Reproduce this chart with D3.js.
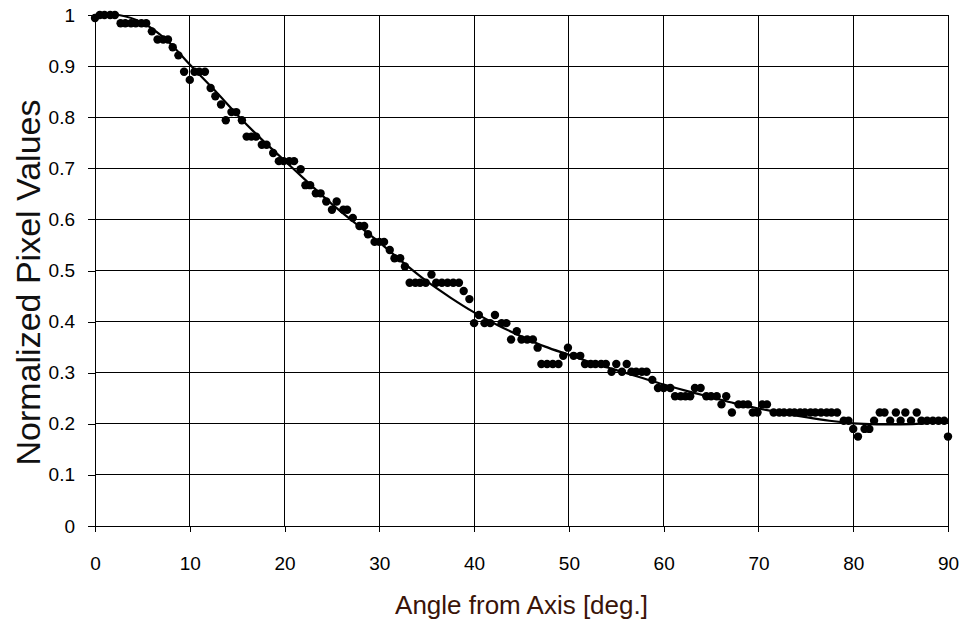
<!DOCTYPE html>
<html>
<head>
<meta charset="utf-8">
<script src="https://cdn.jsdelivr.net/npm/d3@7"></script>
<style>
  html, body { margin: 0; padding: 0; background: #fff; }
  svg { display: block; font-family: "Liberation Sans", Arial, sans-serif; }
</style>
</head>
<body>
<svg id="chart" width="962" height="631"></svg>
<script>
// measured points: angle [deg] and normalized pixel value
const angles = [
  0.0, 0.5, 1.0, 1.6, 2.1, 2.7, 3.2, 3.8, 4.3, 4.9, 5.4, 6.0, 6.6, 7.2, 7.7, 8.2, 8.8, 9.4, 10.0,
  10.5, 11.0, 11.6, 12.2, 12.7, 13.3, 13.8, 14.4, 14.9, 15.5, 16.0, 16.5, 17.0, 17.6, 18.1, 18.8,
  19.4, 19.9, 20.5, 21.0, 21.7, 22.2, 22.7, 23.3, 23.8, 24.4, 25.0, 25.5, 26.2, 26.6, 27.2, 27.9,
  28.4, 28.8, 29.5, 30.0, 30.5, 31.1, 31.6, 32.2, 32.7, 33.2, 33.8, 34.3, 34.9, 35.5, 36.0, 36.6,
  37.2, 37.8, 38.4, 38.9, 39.5, 40.0, 40.5, 41.1, 41.7, 42.2, 42.9, 43.4, 43.9, 44.5, 45.0, 45.6,
  46.2, 46.7, 47.1, 47.7, 48.3, 48.9, 49.4, 49.9, 50.5, 51.2, 51.7, 52.3, 52.8, 53.4, 53.9, 54.5,
  55.0, 55.6, 56.1, 56.6, 57.1, 57.7, 58.2, 58.8, 59.4, 60.0, 60.7, 61.2, 61.8, 62.3, 62.8, 63.3,
  63.9, 64.5, 65.0, 65.6, 66.1, 66.6, 67.2, 67.9, 68.4, 68.9, 69.4, 69.9, 70.4, 70.9, 71.6, 72.2,
  72.7, 73.3, 73.8, 74.4, 74.9, 75.5, 76.0, 76.6, 77.2, 77.7, 78.3, 79.0, 79.5, 80.0, 80.5, 81.2,
  81.7, 82.2, 82.8, 83.3, 83.9, 84.5, 85.0, 85.5, 86.1, 86.7, 87.2, 87.8, 88.4, 89.0, 89.6, 90.0
]
const pixelValues = [
  0.994, 1.000, 1.000, 1.000, 1.000, 0.984, 0.984, 0.984, 0.984, 0.984, 0.984, 0.968, 0.952, 0.952, 0.952, 0.937, 0.921, 0.889, 0.873,
  0.889, 0.889, 0.889, 0.857, 0.841, 0.825, 0.794, 0.810, 0.810, 0.794, 0.762, 0.762, 0.762, 0.746, 0.746, 0.730,
  0.714, 0.714, 0.714, 0.714, 0.698, 0.667, 0.667, 0.651, 0.651, 0.635, 0.619, 0.635, 0.619, 0.619, 0.603, 0.587,
  0.587, 0.571, 0.556, 0.556, 0.556, 0.540, 0.524, 0.524, 0.508, 0.476, 0.476, 0.476, 0.476, 0.492, 0.476, 0.476,
  0.476, 0.476, 0.476, 0.460, 0.444, 0.397, 0.413, 0.397, 0.397, 0.413, 0.397, 0.397, 0.365, 0.381, 0.365, 0.365,
  0.365, 0.349, 0.317, 0.317, 0.317, 0.317, 0.333, 0.349, 0.333, 0.333, 0.317, 0.317, 0.317, 0.317, 0.317, 0.302,
  0.317, 0.302, 0.317, 0.302, 0.302, 0.302, 0.302, 0.286, 0.270, 0.270, 0.270, 0.254, 0.254, 0.254, 0.254, 0.270,
  0.270, 0.254, 0.254, 0.254, 0.238, 0.254, 0.222, 0.238, 0.238, 0.238, 0.222, 0.222, 0.238, 0.238, 0.222, 0.222,
  0.222, 0.222, 0.222, 0.222, 0.222, 0.222, 0.222, 0.222, 0.222, 0.222, 0.222, 0.206, 0.206, 0.190, 0.175, 0.190,
  0.190, 0.206, 0.222, 0.222, 0.206, 0.222, 0.206, 0.222, 0.206, 0.222, 0.206, 0.206, 0.206, 0.206, 0.206, 0.175
]

// trend line
const trendAngles = [0, 2.5, 5, 7.5, 10, 12.5, 15, 17.5, 20, 22.5, 25, 27.5, 30, 32.5, 35, 37.5, 40, 42.5, 45,
  47.5, 50, 52.5, 55, 57.5, 60, 62.5, 65, 67.5, 70, 72.5, 75, 77.5, 80, 82.5, 85, 87.5, 90]
const trendValues = [1.0, 1.0, 0.985, 0.952, 0.903, 0.855, 0.805, 0.758, 0.715, 0.672, 0.630, 0.592, 0.555, 0.516, 0.479, 0.447, 0.418, 0.393, 0.371,
  0.351, 0.335, 0.319, 0.305, 0.291, 0.277, 0.264, 0.252, 0.240, 0.230, 0.221, 0.213, 0.206, 0.201, 0.199, 0.199, 0.201, 0.205]

const xTicks = [0, 10, 20, 30, 40, 50, 60, 70, 80, 90]
const yTicks = [0, 0.1, 0.2, 0.3, 0.4, 0.5, 0.6, 0.7, 0.8, 0.9, 1]

const margin = {left: 95, right: 14, top: 15, bottom: 105}
const width = 962, height = 631

const svg = d3.select("#chart")

const x = d3.scaleLinear().domain([0, 90]).range([margin.left, width - margin.right])
const y = d3.scaleLinear().domain([0, 1]).range([height - margin.bottom, margin.top])

// grid
const grid = svg.append("g").attr("class", "grid")
  .attr("stroke", "#000").attr("stroke-width", 1).attr("shape-rendering", "crispEdges")
grid.selectAll(".h").data(yTicks.slice(1)).enter().append("line")
  .attr("x1", x(0)).attr("x2", x(90))
  .attr("y1", d => y(d)).attr("y2", d => y(d))
grid.selectAll(".v").data(xTicks.slice(1)).enter().append("line")
  .attr("y1", y(0)).attr("y2", y(1))
  .attr("x1", d => x(d)).attr("x2", d => x(d))

// axes
svg.append("g")
  .attr("transform", `translate(${x(0)},0)`)
  .call(d3.axisLeft(y).tickValues(yTicks).tickSizeInner(7).tickSizeOuter(0).tickPadding(13)
    .tickFormat(d => d3.format("")(+d.toFixed(1))))
svg.append("g")
  .attr("transform", `translate(0,${y(0)})`)
  .call(d3.axisBottom(x).tickValues(xTicks).tickSizeInner(6).tickSizeOuter(0).tickPadding(25))

svg.selectAll(".tick text").attr("font-size", 19).attr("fill", "#000")
  .attr("font-family", "'Liberation Sans', Arial, sans-serif")
svg.selectAll(".domain, .tick line").attr("stroke", "#000").attr("shape-rendering", "crispEdges")

// trend line
const line = d3.line().x(d => x(d[0])).y(d => y(d[1])).curve(d3.curveCatmullRom)
svg.append("path")
  .datum(trendAngles.map((a, i) => [a, trendValues[i]]))
  .attr("fill", "none").attr("stroke", "#000").attr("stroke-width", 2.2)
  .attr("d", line)

// points
svg.append("g").selectAll("circle")
  .data(angles.map((a, i) => [a, pixelValues[i]]))
  .enter().append("circle")
  .attr("cx", d => x(d[0]))
  .attr("cy", d => y(d[1]))
  .attr("r", 4.2)
  .attr("fill", "#000")

// titles
svg.append("text")
  .attr("x", (x(0) + x(90)) / 2).attr("y", 614)
  .attr("text-anchor", "middle").attr("font-size", 26)
  .attr("fill", "#3a1408")
  .text("Angle from Axis [deg.]")
svg.append("text")
  .attr("transform", `translate(40,${(y(0) + y(1)) / 2 + 12}) rotate(-90)`)
  .attr("text-anchor", "middle").attr("font-size", 34)
  .attr("fill", "#111")
  .text("Normalized Pixel Values")
</script>
</body>
</html>
